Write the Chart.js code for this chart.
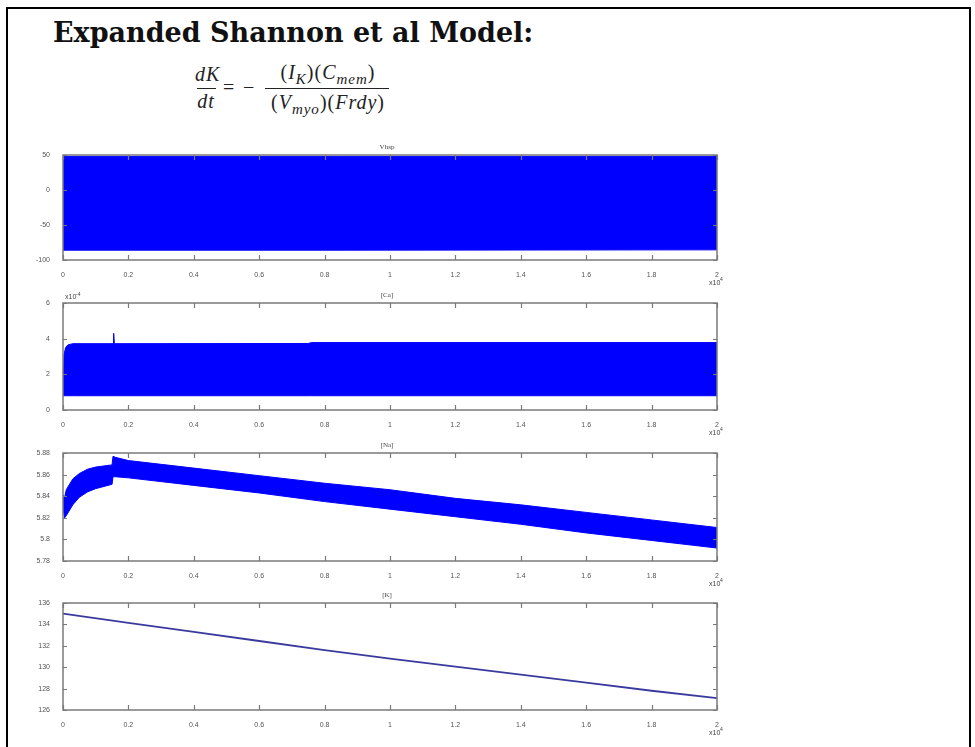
<!DOCTYPE html>
<html>
<head>
<meta charset="utf-8">
<script src="https://cdn.jsdelivr.net/npm/chart.js@4/dist/chart.umd.min.js"></script>
<style>
  body { margin: 0; background: #fff; width: 975px; height: 747px; overflow: hidden; position: relative; }
  #frame { position: absolute; left: 6px; top: 7px; width: 961px; height: 760px; border: 2px solid #000; border-bottom: none; }
  #heading { position: absolute; left: 53px; top: 17px; font: bold 27px "DejaVu Serif", serif; color: #111; white-space: nowrap; }
  .eq { position: absolute; font: italic 20px "Liberation Serif", serif; color: #222; white-space: nowrap; text-align: center; letter-spacing: 1px; line-height: 24px; }
  .eq sub { font-size: 15px; }
  .up { font-style: normal; }
  .bar { position: absolute; height: 1px; background: #222; }
  canvas.plot { position: absolute; left: 0; }
</style>
</head>
<body>
<div id="frame"></div>
<div id="heading">Expanded Shannon et al Model:</div>

<!-- dK/dt = -(I_K)(C_mem) / ((V_myo)(Frdy)) -->
<div class="eq" style="left:195px; top:62px; width:22px;">dK</div>
<div class="bar" style="left:197px; top:88px; width:19px;"></div>
<div class="eq" style="left:195px; top:89px; width:22px;">dt</div>
<div class="eq up" style="left:223px; top:75px;">=</div>
<div class="eq up" style="left:243px; top:75px;">&minus;</div>
<div class="eq" style="left:261px; top:60px; width:134px;"><span class="up">(</span>I<sub>K</sub><span class="up">)(</span>C<sub>mem</sub><span class="up">)</span></div>
<div class="bar" style="left:265px; top:88px; width:124px;"></div>
<div class="eq" style="left:261px; top:90px; width:134px;"><span class="up">(</span>V<sub>myo</sub><span class="up">)(</span>Frdy<span class="up">)</span></div>

<canvas class="plot" id="c1"></canvas>
<canvas class="plot" id="c2"></canvas>
<canvas class="plot" id="c3"></canvas>
<canvas class="plot" id="c4"></canvas>

<script>
// --- dados (tempo em unidades de 10^4) ---
const xTicks = [0, 0.2, 0.4, 0.6, 0.8, 1, 1.2, 1.4, 1.6, 1.8, 2];

const timeVm = [0, 0.85, 2];
const vmUpper = [48, 48, 48];
const vmLower = [-86, -86, -85.5];

const timeCa = [0, 0.003, 0.008, 0.015, 0.03, 0.153, 0.155, 0.157, 0.75, 0.76, 2];
const caUpper = [2.3, 3.1, 3.5, 3.65, 3.72, 3.72, 4.3, 3.72, 3.73, 3.78, 3.78];
const caLower = [0.8, 0.8, 0.8, 0.8, 0.8, 0.8, 0.8, 0.8, 0.8, 0.8, 0.8];

const timeNa = [0, 0.005, 0.01, 0.03, 0.05, 0.075, 0.1, 0.15, 0.153, 0.16, 0.2, 0.4, 0.6, 0.8, 1.0, 1.2, 1.4, 1.6, 1.8, 2.0];
const naUpper = [5.841, 5.839, 5.846, 5.856, 5.861, 5.865, 5.867, 5.869, 5.877, 5.876, 5.873, 5.866, 5.859, 5.852, 5.846, 5.838, 5.832, 5.825, 5.818, 5.811];
const naLower = [5.829, 5.820, 5.822, 5.832, 5.839, 5.844, 5.847, 5.851, 5.858, 5.858, 5.857, 5.850, 5.843, 5.835, 5.828, 5.821, 5.814, 5.806, 5.799, 5.792];

const timeK = [0, 0.2, 0.4, 0.6, 0.8, 1.0, 1.2, 1.4, 1.6, 1.8, 2.0];
const kValues = [135.0, 134.15, 133.3, 132.45, 131.6, 130.8, 130.05, 129.3, 128.55, 127.8, 127.1];

const titles = ['Vhsp', '[Ca]', '[Na]', '[K]'];

// --- eixos no estilo MATLAB: caixa + marcas para dentro ---
const matlabAxes = {
    id: 'matlabAxes',
    afterDatasetsDraw(chart, args, opts) {
        const { ctx, chartArea: a, scales: { x, y } } = chart;
        ctx.save();
        ctx.strokeStyle = '#7a7a7a';
        ctx.lineWidth = 1.5;
        ctx.strokeRect(a.left, a.top, a.right - a.left, a.bottom - a.top);
        ctx.lineWidth = 1.2;
        ctx.beginPath();
        x.ticks.forEach(t => {
            const px = Math.round(x.getPixelForValue(t.value)) + 0.5;
            ctx.moveTo(px, a.bottom); ctx.lineTo(px, a.bottom - 5);
            ctx.moveTo(px, a.top); ctx.lineTo(px, a.top + 5);
        });
        y.ticks.forEach(t => {
            const py = Math.round(y.getPixelForValue(t.value)) + 0.5;
            ctx.moveTo(a.left, py); ctx.lineTo(a.left + 4, py);
            ctx.moveTo(a.right, py); ctx.lineTo(a.right - 4, py);
        });
        ctx.stroke();

        ctx.fillStyle = '#444';
        ctx.font = '7px "Liberation Serif", serif';
        ctx.textAlign = 'center';
        ctx.textBaseline = 'bottom';
        ctx.fillText(opts.title, (a.left + a.right) / 2 - 3, a.top - 4);

        ctx.textAlign = 'left';
        ctx.font = '7px "Liberation Sans", sans-serif';
        ctx.fillText('x10', a.right - 8, a.bottom + 27);
        ctx.font = '5px "Liberation Sans", sans-serif';
        ctx.fillText('4', a.right + 3, a.bottom + 22);
        if (opts.yExp) {
            ctx.font = '7px "Liberation Sans", sans-serif';
            ctx.fillText('x10', a.left + 2, a.top - 2);
            ctx.font = '5px "Liberation Sans", sans-serif';
            ctx.fillText(opts.yExp, a.left + 13, a.top - 6);
        }
        ctx.restore();
    }
};

function toPoints(xs, ys) {
    return xs.map((v, i) => ({ x: v, y: ys[i] }));
}

function makePlot(id, plotTop, plotBottom, datasets, yMin, yMax, yStep, yDigits, title, yExp) {
    const canvas = document.getElementById(id);
    const padTop = 20, axisH = 32;
    canvas.style.top = (plotTop - padTop) + 'px';
    canvas.style.width = '760px';
    canvas.style.height = (plotBottom - plotTop + padTop + axisH) + 'px';

    return new Chart(canvas.getContext('2d'), {
        type: 'line',
        data: { datasets },
        options: {
            responsive: false,
            animation: false,
            events: [],
            layout: { padding: { left: 0, right: 43, top: padTop, bottom: 0 } },
            elements: { point: { radius: 0 }, line: { tension: 0 } },
            plugins: {
                legend: { display: false },
                tooltip: { enabled: false },
                matlabAxes: { title, yExp }
            },
            scales: {
                x: {
                    type: 'linear', min: 0, max: 2,
                    afterBuildTicks: s => { s.ticks = xTicks.map(v => ({ value: v })); },
                    afterFit: s => { s.height = axisH; },
                    grid: { display: false },
                    border: { display: false },
                    ticks: {
                        padding: 3, color: '#555', maxRotation: 0,
                        font: { size: 7, family: 'Liberation Sans' },
                        callback: v => String(Number(v.toFixed(1)))
                    }
                },
                y: {
                    min: yMin, max: yMax,
                    afterFit: s => { s.width = 63; },
                    grid: { display: false },
                    border: { display: false },
                    ticks: {
                        stepSize: yStep, padding: 5, color: '#555',
                        font: { size: 7, family: 'Liberation Sans' },
                        callback: v => String(Number(v.toFixed(yDigits)))
                    }
                }
            }
        },
        plugins: [matlabAxes]
    });
}

const blue = '#0000ff';
function band(xs, upper, lower) {
    return [
        { data: toPoints(xs, upper), borderColor: blue, borderWidth: 1, fill: false },
        { data: toPoints(xs, lower), borderColor: blue, borderWidth: 1, backgroundColor: blue, fill: '-1' }
    ];
}

makePlot('c1', 155, 260, band(timeVm, vmUpper, vmLower), -100, 50, 50, 0, titles[0]);
makePlot('c2', 303, 410, band(timeCa, caUpper, caLower), 0, 6, 2, 0, titles[1], '-4');
makePlot('c3', 453, 561, band(timeNa, naUpper, naLower), 5.78, 5.88, 0.02, 2, titles[2]);
makePlot('c4', 603, 710, [
    { data: toPoints(timeK, kValues), borderColor: '#3a3a9e', borderWidth: 1.8, fill: false }
], 126, 136, 2, 0, titles[3]);
</script>
</body>
</html>
